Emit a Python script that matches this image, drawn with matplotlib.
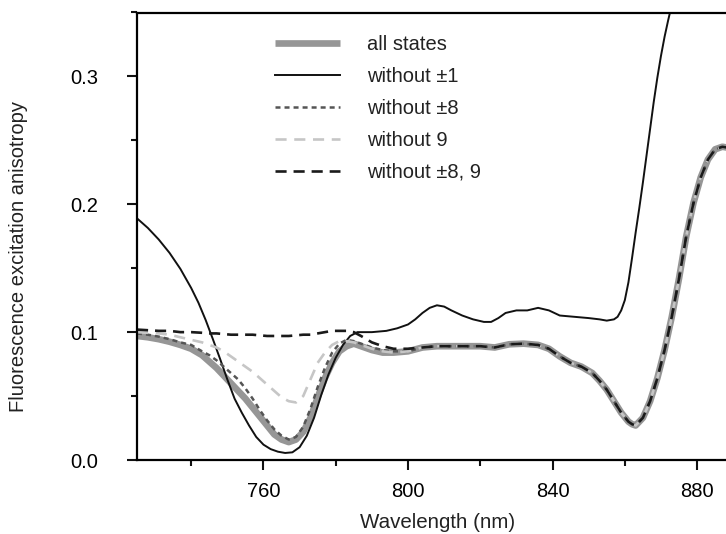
import numpy as np
import matplotlib
matplotlib.use("Agg")
import matplotlib.pyplot as plt
from matplotlib.ticker import MultipleLocator

plt.rcParams["font.family"] = ["Liberation Sans", "DejaVu Sans"]
plt.rcParams["lines.scale_dashes"] = False

# shared wavelength grid (nm) for the curves that follow "all states"
wavelength = [725, 728, 731, 734, 737, 740, 743, 745, 747, 749,
              751, 753, 755, 757, 759, 761, 763, 765, 767, 769,
              771, 773, 775, 777, 779, 781, 783, 785, 787, 790,
              793, 796, 800, 804, 808, 812, 816, 820, 824, 828,
              832, 836, 839, 842, 845, 848, 851, 853, 855, 857,
              859, 861, 862, 863, 865, 867, 869, 871, 873, 875,
              877, 879, 881, 883, 885, 887, 889]

all_states = [0.097, 0.096, 0.0945, 0.0925, 0.090, 0.087, 0.082, 0.077, 0.072, 0.066,
              0.060, 0.054, 0.048, 0.041, 0.034, 0.027, 0.020, 0.016, 0.014, 0.016,
              0.022, 0.033, 0.049, 0.064, 0.076, 0.085, 0.089, 0.091, 0.089, 0.086,
              0.084, 0.084, 0.085, 0.088, 0.089, 0.089, 0.089, 0.089, 0.088, 0.0905,
              0.091, 0.090, 0.087, 0.081, 0.076, 0.073, 0.068, 0.062, 0.055, 0.046,
              0.037, 0.030, 0.028, 0.027, 0.033, 0.046, 0.064, 0.086, 0.112, 0.142,
              0.175, 0.201, 0.221, 0.235, 0.243, 0.245, 0.244]

# the other curves differ from "all states" only up to 800 nm
without_8_head = [0.099, 0.098, 0.0965, 0.0945, 0.092, 0.090, 0.085, 0.082, 0.078, 0.073,
                  0.068, 0.063, 0.056, 0.048, 0.039, 0.031, 0.024, 0.019, 0.016, 0.018,
                  0.026, 0.040, 0.057, 0.072, 0.084, 0.091, 0.094, 0.093, 0.091, 0.088,
                  0.086, 0.085, 0.085]

without_9_head = [0.100, 0.0995, 0.099, 0.098, 0.096, 0.094, 0.092, 0.090, 0.088, 0.085,
                  0.081, 0.077, 0.073, 0.069, 0.064, 0.059, 0.054, 0.049, 0.046, 0.045,
                  0.050, 0.063, 0.076, 0.084, 0.090, 0.093, 0.093, 0.092, 0.090, 0.087,
                  0.085, 0.084, 0.085]

without_8_9_head = [0.102, 0.1015, 0.101, 0.101, 0.100, 0.100, 0.0995, 0.099, 0.099, 0.0985,
                    0.098, 0.098, 0.098, 0.098, 0.0975, 0.097, 0.097, 0.097, 0.097, 0.0975,
                    0.098, 0.098, 0.099, 0.100, 0.101, 0.101, 0.101, 0.100, 0.097, 0.092,
                    0.089, 0.087, 0.087]

# "without ±1" has its own grid
wavelength_1 = [725, 728, 731, 734, 737, 740, 742, 744, 746, 748,
                750, 752, 754, 756, 758, 760, 762, 764, 766, 768,
                770, 772, 774, 776, 778, 780, 782, 784, 786, 790,
                794, 797, 800, 802, 804, 806, 808, 810, 812, 815,
                818, 821, 823, 825, 827, 830, 833, 836, 839, 842,
                846, 850, 853, 855, 857, 858, 859, 860, 861, 862,
                863, 864, 865, 866, 867, 868, 869, 870, 871, 872,
                873, 874]

without_1 = [0.189, 0.1815, 0.1725, 0.162, 0.1495, 0.1345, 0.123, 0.1095, 0.0945, 0.079,
             0.063, 0.048, 0.037, 0.027, 0.018, 0.012, 0.0085, 0.0065, 0.0055, 0.006,
             0.010, 0.019, 0.033, 0.051, 0.067, 0.080, 0.090, 0.097, 0.100, 0.100,
             0.101, 0.103, 0.106, 0.110, 0.115, 0.119, 0.121, 0.120, 0.117, 0.113,
             0.110, 0.108, 0.108, 0.111, 0.115, 0.117, 0.117, 0.119, 0.117, 0.113,
             0.112, 0.111, 0.110, 0.109, 0.110, 0.112, 0.117, 0.125, 0.139, 0.158,
             0.178, 0.197, 0.217, 0.238, 0.259, 0.280, 0.299, 0.316, 0.331, 0.344,
             0.356, 0.367]

n = len(without_8_head)
without_8 = without_8_head + all_states[n:]
without_9 = without_9_head + all_states[n:]
without_8_9 = without_8_9_head + all_states[n:]

W, H = 726, 534
fig = plt.figure(figsize=(W / 100, H / 100), dpi=100)
ax = fig.add_axes([137 / W, (H - 460) / H, (W - 137) / W, (460 - 12.5) / H])

ax.plot(wavelength, all_states, color="#969696", lw=4.8, solid_capstyle="butt", label="all states")
ax.plot(wavelength_1, without_1, color="#111111", lw=1.4, label="without \u00b11")
ax.plot(wavelength, without_8, color="#555555", lw=1.8, dashes=(3.6, 2.9), label="without \u00b18")
ax.plot(wavelength, without_9, color="#c6c6c6", lw=1.9, dashes=(8, 5.5), label="without 9")
ax.plot(wavelength, without_8_9, color="#1a1a1a", lw=1.9, dashes=(8, 5), label="without \u00b18, 9")

ax.set_xlim(725, 888)
ax.set_ylim(0, 0.35)
ax.set_xticks([760, 800, 840, 880])
ax.set_xticks([740, 780, 820, 860], minor=True)
ax.yaxis.set_major_locator(MultipleLocator(0.1))
ax.yaxis.set_minor_locator(MultipleLocator(0.05))
ax.yaxis.set_major_formatter(plt.FormatStrFormatter("%.1f"))

for s in ["left", "bottom", "top"]:
    ax.spines[s].set_linewidth(1.6)
ax.spines["right"].set_visible(False)
ax.tick_params(which="major", direction="out", length=7, width=1.5, labelsize=14.5, color="#111111")
ax.tick_params(which="minor", direction="out", length=4.5, width=1.5, color="#111111")
ax.tick_params(axis="y", which="major", pad=21)
ax.tick_params(axis="x", which="major", pad=9)

fig.text(19 / W, 1 - 257 / H, "Fluorescence excitation anisotropy", rotation=90,
         ha="center", va="center", fontsize=14.5, color="#222222")
fig.text(438 / W, 1 - 522 / H, "Wavelength (nm)", ha="center", va="center",
         fontsize=14.8, color="#222222")

leg = ax.legend(loc="upper left", bbox_to_anchor=(275 / W, 1 - 35 / H),
                bbox_transform=fig.transFigure, frameon=False, fontsize=14.5,
                handlelength=3.25, handletextpad=1.3, labelspacing=0.64,
                borderpad=0, borderaxespad=0)
for t in leg.get_texts():
    t.set_color("#222222")

fig.savefig("out.png", dpi=100)
